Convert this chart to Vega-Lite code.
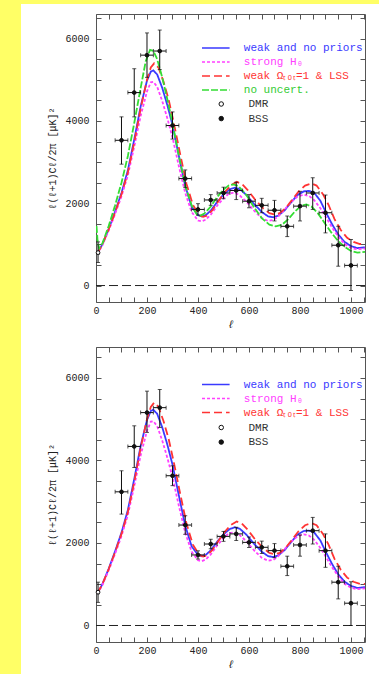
{
  "$schema": "https://vega.github.io/schema/vega-lite/v6.json",
  "background": "white",
  "padding": 0,
  "spacing": 0,
  "config": {
    "view": {"stroke": "#555", "strokeWidth": 1},
    "font": "Liberation Mono",
    "axis": {"labelFont": "Liberation Mono", "titleFont": "Liberation Mono", "labelFontSize": 10, "labelColor": "#222", "titleColor": "#222", "titleFontWeight": "normal", "tickColor": "#555", "tickSize": -5, "domain": false, "grid": false, "labelOverlap": false, "labelFlush": false, "format": "d"},
    "legend": {"labelFont": "Liberation Mono", "padding": 0}
  },
  "datasets": {
    "curves": [
      {"model": "weak and no priors", "l": 2, "v": 790}, {"model": "weak and no priors", "l": 10, "v": 830}, {"model": "weak and no priors", "l": 25, "v": 1000}, {"model": "weak and no priors", "l": 50, "v": 1380}, {"model": "weak and no priors", "l": 75, "v": 1800}, {"model": "weak and no priors", "l": 100, "v": 2250}, {"model": "weak and no priors", "l": 125, "v": 2800}, {"model": "weak and no priors", "l": 150, "v": 3550}, {"model": "weak and no priors", "l": 175, "v": 4350}, {"model": "weak and no priors", "l": 200, "v": 4980}, {"model": "weak and no priors", "l": 215, "v": 5200}, {"model": "weak and no priors", "l": 225, "v": 5230}, {"model": "weak and no priors", "l": 240, "v": 5130}, {"model": "weak and no priors", "l": 260, "v": 4800}, {"model": "weak and no priors", "l": 280, "v": 4380}, {"model": "weak and no priors", "l": 300, "v": 3900}, {"model": "weak and no priors", "l": 325, "v": 3150}, {"model": "weak and no priors", "l": 350, "v": 2420}, {"model": "weak and no priors", "l": 375, "v": 1920}, {"model": "weak and no priors", "l": 400, "v": 1710}, {"model": "weak and no priors", "l": 415, "v": 1680}, {"model": "weak and no priors", "l": 430, "v": 1710}, {"model": "weak and no priors", "l": 450, "v": 1820}, {"model": "weak and no priors", "l": 475, "v": 2030}, {"model": "weak and no priors", "l": 500, "v": 2210}, {"model": "weak and no priors", "l": 525, "v": 2340}, {"model": "weak and no priors", "l": 545, "v": 2380}, {"model": "weak and no priors", "l": 565, "v": 2340}, {"model": "weak and no priors", "l": 590, "v": 2200}, {"model": "weak and no priors", "l": 620, "v": 1980}, {"model": "weak and no priors", "l": 650, "v": 1790}, {"model": "weak and no priors", "l": 675, "v": 1680}, {"model": "weak and no priors", "l": 695, "v": 1660}, {"model": "weak and no priors", "l": 715, "v": 1700}, {"model": "weak and no priors", "l": 740, "v": 1830}, {"model": "weak and no priors", "l": 765, "v": 2020}, {"model": "weak and no priors", "l": 790, "v": 2200}, {"model": "weak and no priors", "l": 815, "v": 2290}, {"model": "weak and no priors", "l": 835, "v": 2300}, {"model": "weak and no priors", "l": 855, "v": 2260}, {"model": "weak and no priors", "l": 880, "v": 2060}, {"model": "weak and no priors", "l": 900, "v": 1800}, {"model": "weak and no priors", "l": 925, "v": 1500}, {"model": "weak and no priors", "l": 950, "v": 1240}, {"model": "weak and no priors", "l": 975, "v": 1060}, {"model": "weak and no priors", "l": 1000, "v": 960}, {"model": "weak and no priors", "l": 1025, "v": 910}, {"model": "weak and no priors", "l": 1055, "v": 930},
      {"model": "strong H₀", "l": 2, "v": 780}, {"model": "strong H₀", "l": 10, "v": 820}, {"model": "strong H₀", "l": 25, "v": 980}, {"model": "strong H₀", "l": 50, "v": 1340}, {"model": "strong H₀", "l": 75, "v": 1740}, {"model": "strong H₀", "l": 100, "v": 2170}, {"model": "strong H₀", "l": 125, "v": 2680}, {"model": "strong H₀", "l": 150, "v": 3380}, {"model": "strong H₀", "l": 175, "v": 4120}, {"model": "strong H₀", "l": 200, "v": 4720}, {"model": "strong H₀", "l": 215, "v": 4940}, {"model": "strong H₀", "l": 225, "v": 4950}, {"model": "strong H₀", "l": 240, "v": 4830}, {"model": "strong H₀", "l": 260, "v": 4480}, {"model": "strong H₀", "l": 280, "v": 4060}, {"model": "strong H₀", "l": 300, "v": 3600}, {"model": "strong H₀", "l": 325, "v": 2900}, {"model": "strong H₀", "l": 350, "v": 2250}, {"model": "strong H₀", "l": 375, "v": 1790}, {"model": "strong H₀", "l": 400, "v": 1580}, {"model": "strong H₀", "l": 415, "v": 1560}, {"model": "strong H₀", "l": 430, "v": 1600}, {"model": "strong H₀", "l": 450, "v": 1720}, {"model": "strong H₀", "l": 475, "v": 1940}, {"model": "strong H₀", "l": 500, "v": 2120}, {"model": "strong H₀", "l": 520, "v": 2230}, {"model": "strong H₀", "l": 540, "v": 2260}, {"model": "strong H₀", "l": 560, "v": 2210}, {"model": "strong H₀", "l": 590, "v": 2040}, {"model": "strong H₀", "l": 620, "v": 1820}, {"model": "strong H₀", "l": 650, "v": 1640}, {"model": "strong H₀", "l": 675, "v": 1570}, {"model": "strong H₀", "l": 695, "v": 1590}, {"model": "strong H₀", "l": 715, "v": 1680}, {"model": "strong H₀", "l": 740, "v": 1850}, {"model": "strong H₀", "l": 765, "v": 2030}, {"model": "strong H₀", "l": 790, "v": 2160}, {"model": "strong H₀", "l": 815, "v": 2210}, {"model": "strong H₀", "l": 835, "v": 2180}, {"model": "strong H₀", "l": 855, "v": 2080}, {"model": "strong H₀", "l": 880, "v": 1880}, {"model": "strong H₀", "l": 900, "v": 1680}, {"model": "strong H₀", "l": 925, "v": 1420}, {"model": "strong H₀", "l": 950, "v": 1190}, {"model": "strong H₀", "l": 975, "v": 1010}, {"model": "strong H₀", "l": 1000, "v": 915}, {"model": "strong H₀", "l": 1025, "v": 880}, {"model": "strong H₀", "l": 1055, "v": 900},
      {"model": "weak Ωₜₒₜ=1 & LSS", "l": 2, "v": 790}, {"model": "weak Ωₜₒₜ=1 & LSS", "l": 10, "v": 830}, {"model": "weak Ωₜₒₜ=1 & LSS", "l": 25, "v": 1000}, {"model": "weak Ωₜₒₜ=1 & LSS", "l": 50, "v": 1370}, {"model": "weak Ωₜₒₜ=1 & LSS", "l": 75, "v": 1780}, {"model": "weak Ωₜₒₜ=1 & LSS", "l": 100, "v": 2220}, {"model": "weak Ωₜₒₜ=1 & LSS", "l": 125, "v": 2750}, {"model": "weak Ωₜₒₜ=1 & LSS", "l": 150, "v": 3480}, {"model": "weak Ωₜₒₜ=1 & LSS", "l": 175, "v": 4300}, {"model": "weak Ωₜₒₜ=1 & LSS", "l": 200, "v": 5000}, {"model": "weak Ωₜₒₜ=1 & LSS", "l": 215, "v": 5300}, {"model": "weak Ωₜₒₜ=1 & LSS", "l": 228, "v": 5400}, {"model": "weak Ωₜₒₜ=1 & LSS", "l": 245, "v": 5300}, {"model": "weak Ωₜₒₜ=1 & LSS", "l": 265, "v": 4950}, {"model": "weak Ωₜₒₜ=1 & LSS", "l": 285, "v": 4520}, {"model": "weak Ωₜₒₜ=1 & LSS", "l": 305, "v": 3960}, {"model": "weak Ωₜₒₜ=1 & LSS", "l": 330, "v": 3200}, {"model": "weak Ωₜₒₜ=1 & LSS", "l": 355, "v": 2470}, {"model": "weak Ωₜₒₜ=1 & LSS", "l": 380, "v": 1960}, {"model": "weak Ωₜₒₜ=1 & LSS", "l": 405, "v": 1710}, {"model": "weak Ωₜₒₜ=1 & LSS", "l": 420, "v": 1670}, {"model": "weak Ωₜₒₜ=1 & LSS", "l": 435, "v": 1700}, {"model": "weak Ωₜₒₜ=1 & LSS", "l": 455, "v": 1820}, {"model": "weak Ωₜₒₜ=1 & LSS", "l": 480, "v": 2050}, {"model": "weak Ωₜₒₜ=1 & LSS", "l": 505, "v": 2270}, {"model": "weak Ωₜₒₜ=1 & LSS", "l": 530, "v": 2440}, {"model": "weak Ωₜₒₜ=1 & LSS", "l": 552, "v": 2520}, {"model": "weak Ωₜₒₜ=1 & LSS", "l": 572, "v": 2470}, {"model": "weak Ωₜₒₜ=1 & LSS", "l": 595, "v": 2320}, {"model": "weak Ωₜₒₜ=1 & LSS", "l": 625, "v": 2080}, {"model": "weak Ωₜₒₜ=1 & LSS", "l": 655, "v": 1880}, {"model": "weak Ωₜₒₜ=1 & LSS", "l": 680, "v": 1760}, {"model": "weak Ωₜₒₜ=1 & LSS", "l": 700, "v": 1730}, {"model": "weak Ωₜₒₜ=1 & LSS", "l": 720, "v": 1760}, {"model": "weak Ωₜₒₜ=1 & LSS", "l": 745, "v": 1890}, {"model": "weak Ωₜₒₜ=1 & LSS", "l": 770, "v": 2090}, {"model": "weak Ωₜₒₜ=1 & LSS", "l": 795, "v": 2290}, {"model": "weak Ωₜₒₜ=1 & LSS", "l": 820, "v": 2430}, {"model": "weak Ωₜₒₜ=1 & LSS", "l": 845, "v": 2480}, {"model": "weak Ωₜₒₜ=1 & LSS", "l": 865, "v": 2430}, {"model": "weak Ωₜₒₜ=1 & LSS", "l": 890, "v": 2220}, {"model": "weak Ωₜₒₜ=1 & LSS", "l": 912, "v": 1960}, {"model": "weak Ωₜₒₜ=1 & LSS", "l": 935, "v": 1620}, {"model": "weak Ωₜₒₜ=1 & LSS", "l": 960, "v": 1350}, {"model": "weak Ωₜₒₜ=1 & LSS", "l": 985, "v": 1160}, {"model": "weak Ωₜₒₜ=1 & LSS", "l": 1010, "v": 1060}, {"model": "weak Ωₜₒₜ=1 & LSS", "l": 1035, "v": 1010}, {"model": "weak Ωₜₒₜ=1 & LSS", "l": 1055, "v": 1010},
      {"model": "no uncert.", "l": 2, "v": 1450}, {"model": "no uncert.", "l": 6, "v": 1100}, {"model": "no uncert.", "l": 12, "v": 900}, {"model": "no uncert.", "l": 25, "v": 1020}, {"model": "no uncert.", "l": 50, "v": 1450}, {"model": "no uncert.", "l": 75, "v": 1950}, {"model": "no uncert.", "l": 100, "v": 2500}, {"model": "no uncert.", "l": 125, "v": 3150}, {"model": "no uncert.", "l": 150, "v": 3950}, {"model": "no uncert.", "l": 175, "v": 4800}, {"model": "no uncert.", "l": 195, "v": 5450}, {"model": "no uncert.", "l": 212, "v": 5730}, {"model": "no uncert.", "l": 225, "v": 5700}, {"model": "no uncert.", "l": 240, "v": 5500}, {"model": "no uncert.", "l": 260, "v": 5050}, {"model": "no uncert.", "l": 280, "v": 4520}, {"model": "no uncert.", "l": 300, "v": 3950}, {"model": "no uncert.", "l": 325, "v": 3150}, {"model": "no uncert.", "l": 350, "v": 2420}, {"model": "no uncert.", "l": 375, "v": 1950}, {"model": "no uncert.", "l": 395, "v": 1730}, {"model": "no uncert.", "l": 410, "v": 1700}, {"model": "no uncert.", "l": 425, "v": 1750}, {"model": "no uncert.", "l": 450, "v": 1920}, {"model": "no uncert.", "l": 475, "v": 2150}, {"model": "no uncert.", "l": 500, "v": 2330}, {"model": "no uncert.", "l": 520, "v": 2430}, {"model": "no uncert.", "l": 540, "v": 2460}, {"model": "no uncert.", "l": 560, "v": 2410}, {"model": "no uncert.", "l": 590, "v": 2200}, {"model": "no uncert.", "l": 620, "v": 1900}, {"model": "no uncert.", "l": 650, "v": 1640}, {"model": "no uncert.", "l": 680, "v": 1480}, {"model": "no uncert.", "l": 705, "v": 1440}, {"model": "no uncert.", "l": 730, "v": 1480}, {"model": "no uncert.", "l": 755, "v": 1620}, {"model": "no uncert.", "l": 780, "v": 1800}, {"model": "no uncert.", "l": 805, "v": 1940}, {"model": "no uncert.", "l": 825, "v": 1970}, {"model": "no uncert.", "l": 845, "v": 1920}, {"model": "no uncert.", "l": 870, "v": 1760}, {"model": "no uncert.", "l": 900, "v": 1490}, {"model": "no uncert.", "l": 925, "v": 1270}, {"model": "no uncert.", "l": 950, "v": 1080}, {"model": "no uncert.", "l": 975, "v": 940}, {"model": "no uncert.", "l": 1000, "v": 840}, {"model": "no uncert.", "l": 1025, "v": 800}, {"model": "no uncert.", "l": 1055, "v": 820}
    ],
    "ptsTop": [
      {"exp": "DMR", "l": 8, "v": 800, "lo": 560, "hi": 1060, "xlo": 3, "xhi": 13},
      {"exp": "BSS", "l": 100, "v": 3530, "lo": 2950, "hi": 4100, "xlo": 75, "xhi": 125},
      {"exp": "BSS", "l": 150, "v": 4690, "lo": 4100, "hi": 5270, "xlo": 125, "xhi": 175},
      {"exp": "BSS", "l": 200, "v": 5600, "lo": 5060, "hi": 6140, "xlo": 175, "xhi": 225},
      {"exp": "BSS", "l": 250, "v": 5700, "lo": 5250, "hi": 6210, "xlo": 225, "xhi": 275},
      {"exp": "BSS", "l": 300, "v": 3890, "lo": 3560, "hi": 4220, "xlo": 275, "xhi": 325},
      {"exp": "BSS", "l": 350, "v": 2600, "lo": 2380, "hi": 2810, "xlo": 325, "xhi": 375},
      {"exp": "BSS", "l": 400, "v": 1850, "lo": 1710, "hi": 1990, "xlo": 375, "xhi": 425},
      {"exp": "BSS", "l": 450, "v": 2080, "lo": 1950, "hi": 2210, "xlo": 425, "xhi": 475},
      {"exp": "BSS", "l": 500, "v": 2250, "lo": 2110, "hi": 2390, "xlo": 475, "xhi": 525},
      {"exp": "BSS", "l": 550, "v": 2310, "lo": 2090, "hi": 2510, "xlo": 525, "xhi": 575},
      {"exp": "BSS", "l": 600, "v": 2050, "lo": 1890, "hi": 2210, "xlo": 575, "xhi": 625},
      {"exp": "BSS", "l": 650, "v": 1950, "lo": 1770, "hi": 2120, "xlo": 625, "xhi": 675},
      {"exp": "BSS", "l": 700, "v": 1830, "lo": 1570, "hi": 2070, "xlo": 675, "xhi": 725},
      {"exp": "BSS", "l": 750, "v": 1440, "lo": 1190, "hi": 1690, "xlo": 725, "xhi": 775},
      {"exp": "BSS", "l": 800, "v": 1930, "lo": 1570, "hi": 2290, "xlo": 775, "xhi": 825},
      {"exp": "BSS", "l": 850, "v": 2250, "lo": 1850, "hi": 2620, "xlo": 825, "xhi": 875},
      {"exp": "BSS", "l": 900, "v": 1770, "lo": 1280, "hi": 2200, "xlo": 875, "xhi": 925},
      {"exp": "BSS", "l": 950, "v": 980, "lo": 470, "hi": 1440, "xlo": 925, "xhi": 975},
      {"exp": "BSS", "l": 1000, "v": 490, "lo": -120, "hi": 1120, "xlo": 975, "xhi": 1025}
    ],
    "ptsBottom": [
      {"exp": "DMR", "l": 8, "v": 807, "lo": 560, "hi": 1050, "xlo": 3, "xhi": 13},
      {"exp": "BSS", "l": 100, "v": 3240, "lo": 2700, "hi": 3750, "xlo": 75, "xhi": 125},
      {"exp": "BSS", "l": 150, "v": 4340, "lo": 3830, "hi": 4840, "xlo": 125, "xhi": 175},
      {"exp": "BSS", "l": 200, "v": 5160, "lo": 4680, "hi": 5680, "xlo": 175, "xhi": 225},
      {"exp": "BSS", "l": 250, "v": 5280, "lo": 4800, "hi": 5720, "xlo": 225, "xhi": 275},
      {"exp": "BSS", "l": 300, "v": 3630, "lo": 3390, "hi": 3870, "xlo": 275, "xhi": 325},
      {"exp": "BSS", "l": 350, "v": 2435, "lo": 2210, "hi": 2660, "xlo": 325, "xhi": 375},
      {"exp": "BSS", "l": 400, "v": 1710, "lo": 1610, "hi": 1810, "xlo": 375, "xhi": 425},
      {"exp": "BSS", "l": 450, "v": 1975, "lo": 1860, "hi": 2090, "xlo": 425, "xhi": 475},
      {"exp": "BSS", "l": 500, "v": 2160, "lo": 2040, "hi": 2280, "xlo": 475, "xhi": 525},
      {"exp": "BSS", "l": 550, "v": 2220, "lo": 2060, "hi": 2380, "xlo": 525, "xhi": 575},
      {"exp": "BSS", "l": 600, "v": 2015, "lo": 1890, "hi": 2145, "xlo": 575, "xhi": 625},
      {"exp": "BSS", "l": 650, "v": 1895, "lo": 1745, "hi": 2045, "xlo": 625, "xhi": 675},
      {"exp": "BSS", "l": 700, "v": 1815, "lo": 1645, "hi": 1985, "xlo": 675, "xhi": 725},
      {"exp": "BSS", "l": 750, "v": 1436, "lo": 1210, "hi": 1680, "xlo": 725, "xhi": 775},
      {"exp": "BSS", "l": 800, "v": 1952, "lo": 1680, "hi": 2195, "xlo": 775, "xhi": 825},
      {"exp": "BSS", "l": 850, "v": 2298, "lo": 1975, "hi": 2620, "xlo": 825, "xhi": 875},
      {"exp": "BSS", "l": 900, "v": 1814, "lo": 1410, "hi": 2220, "xlo": 875, "xhi": 925},
      {"exp": "BSS", "l": 950, "v": 1050, "lo": 645, "hi": 1436, "xlo": 925, "xhi": 975},
      {"exp": "BSS", "l": 1000, "v": 540, "lo": 0, "hi": 1060, "xlo": 975, "xhi": 1025}
    ]
  },
  "vconcat": [
    {"width": 379, "height": 4, "view": {"fill": "#ffff66", "stroke": null}, "data": {"values": [{}]}, "mark": {"type": "point", "opacity": 0, "size": 0}},
    {
      "spacing": 26,
      "hconcat": [
        {"width": 21, "height": 670, "view": {"fill": "#ffff66", "stroke": null}, "data": {"values": [{}]}, "mark": {"type": "point", "opacity": 0, "size": 0}},
        {
          "spacing": 7,
          "vconcat": [
            {"width": 1, "height": 1, "view": {"stroke": null}, "data": {"values": [{}]}, "mark": {"type": "point", "opacity": 0, "size": 0}},
            {
              "spacing": 16,
              "resolve": {"scale": {"color": "independent", "strokeDash": "independent", "fill": "independent"}},
              "vconcat": [
                {
                  "width": 269, "height": 288,
                  "resolve": {"axis": {"x": "independent", "y": "independent"}},
                  "layer": [
                    {"data": {"values": [{}]}, "mark": {"type": "rule", "strokeDash": [9, 4], "color": "#222", "strokeWidth": 1}, "encoding": {"y": {"datum": 0, "type": "quantitative", "scale": {"domain": [-400, 6600], "nice": false, "zero": false}, "axis": null}}},
                    {"data": {"name": "curves"}, "mark": {"type": "line", "strokeWidth": 1.8, "clip": true},
                     "encoding": {
                       "x": {"field": "l", "type": "quantitative", "scale": {"domain": [0, 1055], "nice": false, "zero": false}, "axis": {"orient": "bottom", "values": [0,50,100,150,200,250,300,350,400,450,500,550,600,650,700,750,800,850,900,950,1000,1050], "labelExpr": "datum.value % 200 === 0 ? datum.label : ''", "labelPadding": 8, "title": "ℓ", "titleFontSize": 11, "titlePadding": 3, "titleFontStyle": "italic"}},
                       "y": {"field": "v", "type": "quantitative", "scale": {"domain": [-400, 6600], "nice": false, "zero": false}, "axis": {"orient": "left", "values": [0,500,1000,1500,2000,2500,3000,3500,4000,4500,5000,5500,6000,6500], "labelExpr": "datum.value % 2000 === 0 ? datum.label : ''", "labelPadding": 12, "title": "ℓ(ℓ+1)Cℓ/2π   [μK]²", "titleFontSize": 10, "titlePadding": 7}},
                       "color": {"field": "model", "type": "nominal", "scale": {"domain": ["weak and no priors", "strong H₀", "weak Ωₜₒₜ=1 & LSS", "no uncert."], "range": ["#3a3aff", "#ff40ff", "#ff3333", "#33dd33"]},
                         "legend": {"title": null, "orient": "none", "legendX": 112.8, "legendY": 27, "symbolType": "M-2.3,0H2.3", "symbolSize": 144, "symbolStrokeWidth": 1.5, "labelFontSize": 11, "labelOffset": 21, "rowPadding": 2.0, "padding": 0,
                           "encode": {"labels": {"update": {"fill": {"signal": "datum.value === 'weak and no priors' ? '#3a3aff' : datum.value === 'strong H₀' ? '#ff40ff' : datum.value === 'no uncert.' ? '#33cc33' : '#ff3333'"}}}}}},
                       "strokeDash": {"field": "model", "type": "nominal", "scale": {"domain": ["weak and no priors", "strong H₀", "weak Ωₜₒₜ=1 & LSS", "no uncert."], "range": [[1, 0], [3, 2], [8, 4], [7, 2]]},
                         "legend": {"title": null, "orient": "none", "legendX": 112.8, "legendY": 27, "symbolType": "M-2.3,0H2.3", "symbolSize": 144, "symbolStrokeWidth": 1.5, "labelFontSize": 11, "labelOffset": 21, "rowPadding": 2.0, "padding": 0,
                           "encode": {"labels": {"update": {"fill": {"signal": "datum.value === 'weak and no priors' ? '#3a3aff' : datum.value === 'strong H₀' ? '#ff40ff' : datum.value === 'no uncert.' ? '#33cc33' : '#ff3333'"}}}}}}
                     }},
                    {"data": {"name": "ptsTop"}, "mark": {"type": "errorbar", "ticks": {"size": 4}, "color": "#111"},
                     "encoding": {"x": {"field": "l", "type": "quantitative", "scale": {"domain": [0, 1055], "nice": false, "zero": false}, "axis": null}, "y": {"field": "lo", "type": "quantitative", "scale": {"domain": [-400, 6600], "nice": false, "zero": false}, "axis": null}, "y2": {"field": "hi"}}},
                    {"data": {"name": "ptsTop"}, "mark": {"type": "errorbar", "ticks": {"size": 4}, "color": "#111"},
                     "encoding": {"y": {"field": "v", "type": "quantitative", "scale": {"domain": [-400, 6600], "nice": false, "zero": false}, "axis": null}, "x": {"field": "xlo", "type": "quantitative", "scale": {"domain": [0, 1055], "nice": false, "zero": false}, "axis": null}, "x2": {"field": "xhi"}}},
                    {"data": {"name": "ptsTop"}, "mark": {"type": "point", "filled": true, "stroke": "#111", "strokeWidth": 1, "size": 14, "opacity": 1},
                     "encoding": {
                       "x": {"field": "l", "type": "quantitative", "scale": {"domain": [0, 1055], "nice": false, "zero": false}, "axis": {"orient": "top", "labels": false, "title": null, "values": [0,50,100,150,200,250,300,350,400,450,500,550,600,650,700,750,800,850,900,950,1000,1050]}},
                       "y": {"field": "v", "type": "quantitative", "scale": {"domain": [-400, 6600], "nice": false, "zero": false}, "axis": {"orient": "right", "labels": false, "title": null, "values": [0,500,1000,1500,2000,2500,3000,3500,4000,4500,5000,5500,6000,6500]}},
                       "fill": {"field": "exp", "type": "nominal", "scale": {"domain": ["DMR", "BSS"], "range": ["white", "#111"]},
                         "legend": {"title": null, "orient": "none", "legendX": 119.75, "legendY": 84.5, "symbolSize": 20, "symbolStrokeColor": "#111", "symbolStrokeWidth": 1, "labelFontSize": 11, "labelOffset": 21.75, "rowPadding": 2.6, "labelColor": "#333", "padding": 0}}
                     }}
                  ]
                },
                {
                  "width": 269, "height": 295,
                  "resolve": {"axis": {"x": "independent", "y": "independent"}},
                  "layer": [
                    {"data": {"values": [{}]}, "mark": {"type": "rule", "strokeDash": [9, 4], "color": "#222", "strokeWidth": 1}, "encoding": {"y": {"datum": 0, "type": "quantitative", "scale": {"domain": [-400, 6750], "nice": false, "zero": false}, "axis": null}}},
                    {"data": {"name": "curves"}, "transform": [{"filter": "datum.model !== 'no uncert.'"}], "mark": {"type": "line", "strokeWidth": 1.8, "clip": true},
                     "encoding": {
                       "x": {"field": "l", "type": "quantitative", "scale": {"domain": [0, 1055], "nice": false, "zero": false}, "axis": {"orient": "bottom", "values": [0,50,100,150,200,250,300,350,400,450,500,550,600,650,700,750,800,850,900,950,1000,1050], "labelExpr": "datum.value % 200 === 0 ? datum.label : ''", "labelPadding": 8, "title": "ℓ", "titleFontSize": 11, "titlePadding": 3, "titleFontStyle": "italic"}},
                       "y": {"field": "v", "type": "quantitative", "scale": {"domain": [-400, 6750], "nice": false, "zero": false}, "axis": {"orient": "left", "values": [0,500,1000,1500,2000,2500,3000,3500,4000,4500,5000,5500,6000,6500], "labelExpr": "datum.value % 2000 === 0 ? datum.label : ''", "labelPadding": 12, "title": "ℓ(ℓ+1)Cℓ/2π   [μK]²", "titleFontSize": 10, "titlePadding": 7}},
                       "color": {"field": "model", "type": "nominal", "scale": {"domain": ["weak and no priors", "strong H₀", "weak Ωₜₒₜ=1 & LSS"], "range": ["#3a3aff", "#ff40ff", "#ff3333"]},
                         "legend": {"title": null, "orient": "none", "legendX": 112.8, "legendY": 30.5, "symbolType": "M-2.3,0H2.3", "symbolSize": 144, "symbolStrokeWidth": 1.5, "labelFontSize": 11, "labelOffset": 21, "rowPadding": 2.0, "padding": 0,
                           "encode": {"labels": {"update": {"fill": {"signal": "datum.value === 'weak and no priors' ? '#3a3aff' : datum.value === 'strong H₀' ? '#ff40ff' : '#ff3333'"}}}}}},
                       "strokeDash": {"field": "model", "type": "nominal", "scale": {"domain": ["weak and no priors", "strong H₀", "weak Ωₜₒₜ=1 & LSS"], "range": [[1, 0], [3, 2], [8, 4]]},
                         "legend": {"title": null, "orient": "none", "legendX": 112.8, "legendY": 30.5, "symbolType": "M-2.3,0H2.3", "symbolSize": 144, "symbolStrokeWidth": 1.5, "labelFontSize": 11, "labelOffset": 21, "rowPadding": 2.0, "padding": 0,
                           "encode": {"labels": {"update": {"fill": {"signal": "datum.value === 'weak and no priors' ? '#3a3aff' : datum.value === 'strong H₀' ? '#ff40ff' : '#ff3333'"}}}}}}
                     }},
                    {"data": {"name": "ptsBottom"}, "mark": {"type": "errorbar", "ticks": {"size": 4}, "color": "#111"},
                     "encoding": {"x": {"field": "l", "type": "quantitative", "scale": {"domain": [0, 1055], "nice": false, "zero": false}, "axis": null}, "y": {"field": "lo", "type": "quantitative", "scale": {"domain": [-400, 6750], "nice": false, "zero": false}, "axis": null}, "y2": {"field": "hi"}}},
                    {"data": {"name": "ptsBottom"}, "mark": {"type": "errorbar", "ticks": {"size": 4}, "color": "#111"},
                     "encoding": {"y": {"field": "v", "type": "quantitative", "scale": {"domain": [-400, 6750], "nice": false, "zero": false}, "axis": null}, "x": {"field": "xlo", "type": "quantitative", "scale": {"domain": [0, 1055], "nice": false, "zero": false}, "axis": null}, "x2": {"field": "xhi"}}},
                    {"data": {"name": "ptsBottom"}, "mark": {"type": "point", "filled": true, "stroke": "#111", "strokeWidth": 1, "size": 14, "opacity": 1},
                     "encoding": {
                       "x": {"field": "l", "type": "quantitative", "scale": {"domain": [0, 1055], "nice": false, "zero": false}, "axis": {"orient": "top", "labels": false, "title": null, "values": [0,50,100,150,200,250,300,350,400,450,500,550,600,650,700,750,800,850,900,950,1000,1050]}},
                       "y": {"field": "v", "type": "quantitative", "scale": {"domain": [-400, 6750], "nice": false, "zero": false}, "axis": {"orient": "right", "labels": false, "title": null, "values": [0,500,1000,1500,2000,2500,3000,3500,4000,4500,5000,5500,6000,6500]}},
                       "fill": {"field": "exp", "type": "nominal", "scale": {"domain": ["DMR", "BSS"], "range": ["white", "#111"]},
                         "legend": {"title": null, "orient": "none", "legendX": 119.75, "legendY": 75, "symbolSize": 20, "symbolStrokeColor": "#111", "symbolStrokeWidth": 1, "labelFontSize": 11, "labelOffset": 21.75, "rowPadding": 2.6, "labelColor": "#333", "padding": 0}}
                     }}
                  ]
                }
              ]
            }
          ]
        }
      ]
    }
  ]
}
